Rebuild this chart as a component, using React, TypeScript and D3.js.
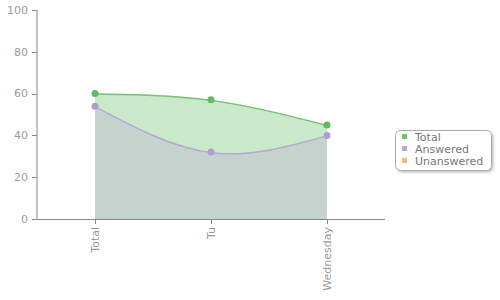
import React from "react";
import * as d3 from "d3";

const categories = ["Total", "Tu", "Wednesday"];
const totalValues = [60, 57, 45];
const answeredValues = [54, 32, 40];
const unansweredValues = [0, 0, 0];
const yTicks = [0, 20, 40, 60, 80, 100];
const legendLabels = ["Total", "Answered", "Unanswered"];
const legendColors = ["#6cc46c", "#b8a6d6", "#ffb870"];

export default function App() {
  const W = 500, H = 300;
  const left = 37, right = 385, top = 10, bottom = 219;
  const x = d3.scaleBand<string>().domain(categories).range([left, right]).padding(0);
  const cx = (c: string) => (x(c) as number) + x.bandwidth() / 2;
  const y = d3.scaleLinear().domain([0, 100]).range([bottom, top]);

  const mk = (vals: number[]) => vals.map((v, i) => ({ c: categories[i], v }));
  const area = d3.area<{ c: string; v: number }>()
    .x(d => cx(d.c)).y0(y(0)).y1(d => y(d.v)).curve(d3.curveNatural);
  const line = d3.line<{ c: string; v: number }>()
    .x(d => cx(d.c)).y(d => y(d.v) + 0.5).curve(d3.curveNatural);

  const font = "'DejaVu Sans', Verdana, sans-serif";
  const tot = mk(totalValues), ans = mk(answeredValues), un = mk(unansweredValues);

  return (
    <svg width={W} height={H} style={{ position: "absolute", left: 0, top: 0, background: "#fff" }} fontFamily={font}>
      <defs>
        <filter id="sh" x="-10%" y="-10%" width="130%" height="140%">
          <feDropShadow dx="1.5" dy="1.5" stdDeviation="1" floodColor="#000" floodOpacity="0.25" />
        </filter>
      </defs>
      <path d={area(tot) ?? ""} fill="#cae9c9" />
      <path d={area(ans) ?? ""} fill="#c5d2ce" />
      <path d={line(tot) ?? ""} fill="none" stroke="#74c474" strokeWidth={1.5} />
      <path d={line(ans) ?? ""} fill="none" stroke="#b6a6d2" strokeWidth={1.5} />
      <path d={line(un) ?? ""} fill="none" stroke="#f5b57a" strokeWidth={1} />
      {/* axes */}
      <line x1={left} x2={left} y1={top} y2={bottom} stroke="#888" />
      <line x1={left} x2={right} y1={bottom + 0.5} y2={bottom + 0.5} stroke="#888" strokeWidth={1.2} />
      {yTicks.map(t => (
        <g key={t}>
          <line x1={32} x2={left} y1={Math.round(y(t)) + 0.5} y2={Math.round(y(t)) + 0.5} stroke="#888" />
          <text x={28} y={y(t)} dy="0.35em" textAnchor="end" fontSize={11} fill="#999">{t}</text>
        </g>
      ))}
      {categories.map(c => (
        <g key={c}>
          <line x1={Math.round(cx(c)) + 0.5} x2={Math.round(cx(c)) + 0.5} y1={bottom} y2={bottom + 5} stroke="#888" />
          <text transform={`translate(${cx(c)},${bottom + 8}) rotate(-90)`} dy="0.35em" textAnchor="end" fontSize={11} fill="#999">{c}</text>
        </g>
      ))}
      {tot.map(d => <circle key={"t" + d.c} cx={cx(d.c)} cy={y(d.v)} r={3.5} fill="#62bb62" />)}
      {ans.map(d => <circle key={"a" + d.c} cx={cx(d.c)} cy={y(d.v)} r={3.5} fill="#b09dd0" />)}
      {/* legend */}
      <rect x={395.5} y={130.5} width={96} height={40} rx={5} fill="#fff" stroke="#aaa" filter="url(#sh)" />
      {legendLabels.map((l, i) => (
        <g key={l}>
          <rect x={402} y={134 + i * 12} width={5} height={5} fill={legendColors[i]} />
          <text x={415} y={137 + i * 12} dy="0.35em" fontSize={11} fill="#777">{l}</text>
        </g>
      ))}
    </svg>
  );
}
